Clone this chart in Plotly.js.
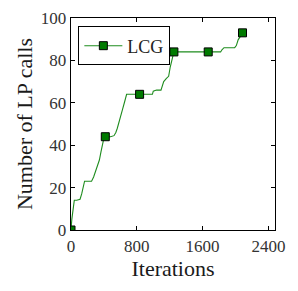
<!DOCTYPE html>
<html>
<head>
<meta charset="utf-8">
<script src="https://cdn.plot.ly/plotly-3.0.1.min.js"></script>
<style>html,body{margin:0;padding:0;background:#fff;}#chart{width:298px;height:291px;}</style>
</head>
<body>
<div id="chart"></div>
<script>
// Line data (iteration, number of LP calls)
var iterations = [0, 10, 40, 70, 110, 130, 165, 250, 275, 305, 325, 345, 365, 380, 398, 417, 480, 523, 545, 563, 595, 624, 652, 676, 834, 990, 1000, 1040, 1094, 1110, 1127, 1160, 1187, 1207, 1230, 1247, 1251, 1668, 1819, 1835, 1860, 1990, 2010, 2032, 2060, 2085];
var lpCalls    = [0, 5, 14, 14, 14.5, 17, 23, 23, 25, 28.5, 31, 33, 37, 40, 43, 44, 44, 44.5, 46, 48, 52, 56.5, 60.5, 64, 64, 64, 65.5, 66, 66, 68, 70, 71.5, 72.5, 77, 81, 83.5, 84, 84, 84, 85, 86, 86, 87, 89.7, 91.5, 93];
// Marked points
var markIter  = [0, 417, 834, 1251, 1668, 2085];
var markCalls = [0, 44, 64, 84, 84, 93];
var seriesName = 'LCG';
var xTicks = [0, 800, 1600, 2400];
var yTicks = [0, 20, 40, 60, 80, 100];

var lineColor = '#1e8c1e';
var markerStyle = {symbol: 'square', size: 8, color: '#007a00', line: {color: '#000', width: 1}};

var traces = [
  {x: iterations, y: lpCalls, mode: 'lines', line: {color: lineColor, width: 1.1}, showlegend: false, hoverinfo: 'skip', cliponaxis: true},
  {x: markIter, y: markCalls, mode: 'markers', marker: markerStyle, showlegend: false, cliponaxis: true},
  {x: [null], y: [null], mode: 'lines+markers', name: seriesName, line: {color: lineColor, width: 1.1}, marker: markerStyle}
];

var fontFam = '"Liberation Serif", "DejaVu Serif", serif';
var axisCommon = {
  showline: true, linecolor: '#000', linewidth: 1.3, mirror: 'ticks',
  ticks: 'inside', ticklen: 4, tickwidth: 1, tickcolor: '#000',
  showgrid: false, zeroline: false,
  tickfont: {family: fontFam, size: 17, color: '#333'}
};

var layout = {
  width: 298, height: 291,
  margin: {l: 71, r: 23, t: 18, b: 61},
  paper_bgcolor: '#fff', plot_bgcolor: '#fff',
  font: {family: fontFam, color: '#222'},
  xaxis: Object.assign({}, axisCommon, {
    range: [0, 2480], tickvals: xTicks, ticktext: xTicks.map(String),
    title: {text: 'Iterations', font: {family: fontFam, size: 22, color: '#1a1a1a'}, standoff: 3}
  }),
  yaxis: Object.assign({}, axisCommon, {
    range: [0, 100], tickvals: yTicks, ticktext: yTicks.map(String),
    title: {text: 'Number of LP calls', font: {family: fontFam, size: 22, color: '#1a1a1a'}, standoff: 2}
  }),
  legend: {
    x: 0.036, y: 0.96, xanchor: 'left', yanchor: 'top',
    bordercolor: '#000', borderwidth: 1, bgcolor: '#fff',
    itemwidth: 38,
    font: {family: fontFam, size: 18, color: '#222'}
  },
  showlegend: true
};

Plotly.newPlot('chart', traces, layout, {displayModeBar: false, staticPlot: true});
</script>
</body>
</html>
